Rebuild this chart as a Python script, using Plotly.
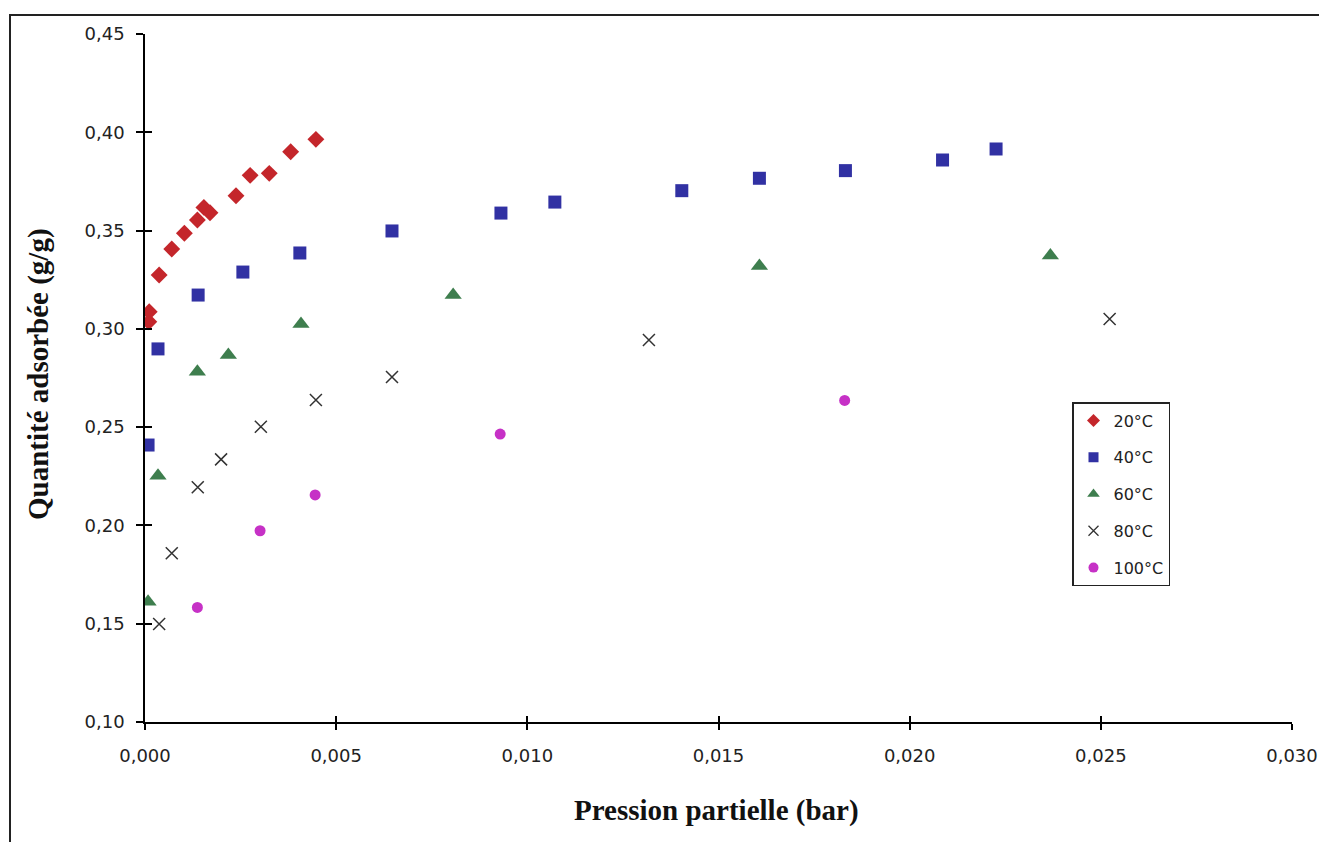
import plotly.graph_objects as go

# ---- data (partial pressure in bar, adsorbed quantity in g/g) ----
p20 = [0.00010, 0.00011, 0.00037, 0.00070, 0.00103, 0.00137, 0.00154, 0.00170, 0.00238, 0.00275, 0.00325, 0.00381, 0.00447]
q20 = [0.3036, 0.3087, 0.3274, 0.3406, 0.3486, 0.3554, 0.3618, 0.3591, 0.3677, 0.3781, 0.3791, 0.3901, 0.3964]

p40 = [0.00008, 0.00034, 0.00139, 0.00256, 0.00405, 0.00646, 0.00931, 0.01072, 0.01404, 0.01607, 0.01832, 0.02086, 0.02226]
q40 = [0.2409, 0.2898, 0.3172, 0.3289, 0.3386, 0.3498, 0.3589, 0.3645, 0.3703, 0.3766, 0.3805, 0.3859, 0.3915]

p60 = [0.00008, 0.00034, 0.00137, 0.00218, 0.00408, 0.00806, 0.01607, 0.02368]
q60 = [0.1612, 0.2253, 0.2782, 0.2867, 0.3025, 0.3172, 0.3320, 0.3373]

p80 = [0.00037, 0.00070, 0.00138, 0.00199, 0.00303, 0.00447, 0.00646, 0.01318, 0.02523]
q80 = [0.1499, 0.1858, 0.2194, 0.2336, 0.2502, 0.2638, 0.2755, 0.2943, 0.3050]

p100 = [0.00137, 0.00301, 0.00445, 0.00929, 0.01830]
q100 = [0.1583, 0.1973, 0.2155, 0.2465, 0.2636]

names = ["20°C", "40°C", "60°C", "80°C", "100°C"]
x_ticks = [0.000, 0.005, 0.010, 0.015, 0.020, 0.025, 0.030]
x_tick_labels = ["0,000", "0,005", "0,010", "0,015", "0,020", "0,025", "0,030"]
y_ticks = [0.10, 0.15, 0.20, 0.25, 0.30, 0.35, 0.40, 0.45]
y_tick_labels = ["0,10", "0,15", "0,20", "0,25", "0,30", "0,35", "0,40", "0,45"]

series = [
    (p20, q20, "diamond", "#C4262B", 13, 10),
    (p40, q40, "square", "#3131A3", 13, 10),
    (p60, q60, "triangle-up", "#3E7E4E", 15, 11),
    (p80, q80, "x-thin-open", "#333333", 12, 10),
    (p100, q100, "circle", "#C631C6", 11, 10),
]

fig = go.Figure()
for (xs, ys, sym, col, size, lsize), nm in zip(series, names):
    mk = dict(symbol=sym, size=size, color=col)
    lmk = dict(symbol=sym, size=lsize, color=col)
    if sym == "x-thin-open":
        mk["line"] = dict(color=col, width=1.5)
        lmk["line"] = dict(color=col, width=1.3)
    fig.add_trace(go.Scatter(x=xs, y=ys, mode="markers", marker=mk, name=nm,
                             showlegend=False, hoverinfo="x+y"))
    fig.add_trace(go.Scatter(x=[None], y=[None], mode="markers", marker=lmk,
                             name=nm, legendgroup=nm, showlegend=True))

tickfont = dict(family="DejaVu Sans, Verdana", size=18, color="#222222")

# body margin removed by post_script; plot area targeted at x 145..1292, y 34..722
W, H = 1319, 842
fig.update_layout(
    width=W, height=H,
    margin=dict(l=145, r=W - 1292, t=34, b=H - 722),
    paper_bgcolor="white", plot_bgcolor="white",
    showlegend=True,
    xaxis=dict(range=[0, 0.030], tickvals=x_ticks, ticktext=x_tick_labels,
               showgrid=False, zeroline=False, showline=True, linecolor="black",
               linewidth=1.5, ticks="outside", ticklen=6, tickcolor="black",
               tickwidth=1.5, tickfont=tickfont, ticklabelstandoff=11,
               automargin=False, ticklabeloverflow="allow"),
    yaxis=dict(range=[0.10, 0.45], tickvals=y_ticks, ticktext=y_tick_labels,
               showgrid=False, zeroline=False, showline=True, linecolor="black",
               linewidth=1.5, ticks="outside", ticklen=7, tickcolor="black",
               tickwidth=1.5, tickfont=tickfont, ticklabelstandoff=8,
               automargin=False),
    xaxis2=dict(range=[0, 0.030], tickvals=x_ticks, overlaying="x", side="bottom",
                showticklabels=False, showgrid=False, zeroline=False, showline=False,
                ticks="inside", ticklen=6, tickcolor="black", tickwidth=1.5,
                automargin=False),
    yaxis2=dict(range=[0.10, 0.45], tickvals=y_ticks, overlaying="y", side="left",
                showticklabels=False, showgrid=False, zeroline=False, showline=False,
                ticks="inside", ticklen=7, tickcolor="black", tickwidth=1.5,
                automargin=False),
    legend=dict(x=(1072 - 145) / 1147, y=(722 - 402) / 688, xanchor="left", yanchor="top",
                bgcolor="white", bordercolor="#222222", borderwidth=1.5,
                font=dict(family="DejaVu Sans, Verdana", size=16, color="#222222"),
                tracegroupgap=13, itemwidth=30),
)

# dummy trace to activate the overlaying axes (cross ticks)
fig.add_trace(go.Scatter(x=[None], y=[None], xaxis="x2", yaxis="y2",
                         showlegend=False, hoverinfo="skip"))

fig.add_annotation(text="<b>Quantité adsorbée (g/g)</b>", xref="paper", yref="paper",
                   x=(38 - 145) / 1147, y=(722 - 374) / 688, textangle=-90,
                   showarrow=False, xanchor="center", yanchor="middle",
                   font=dict(family="Liberation Serif, Times New Roman", size=29, color="#111111"))
fig.add_annotation(text="<b>Pression partielle (bar)</b>", xref="paper", yref="paper",
                   x=(716 - 145) / 1147, y=(722 - 811) / 688,
                   showarrow=False, xanchor="center", yanchor="middle",
                   font=dict(family="Liberation Serif, Times New Roman", size=29, color="#111111"))

# outer chart frame
fig.add_shape(type="rect", xref="paper", yref="paper",
              x0=(10 - 145) / 1147, x1=(1340 - 145) / 1147,
              y0=(722 - 870) / 688, y1=(722 - 15) / 688,
              line=dict(color="#222222", width=2), fillcolor="rgba(0,0,0,0)", layer="below")

fig.write_html("out.html", config={"displayModeBar": False},
               post_script="document.body.style.margin='0';document.body.style.overflow='hidden';")
